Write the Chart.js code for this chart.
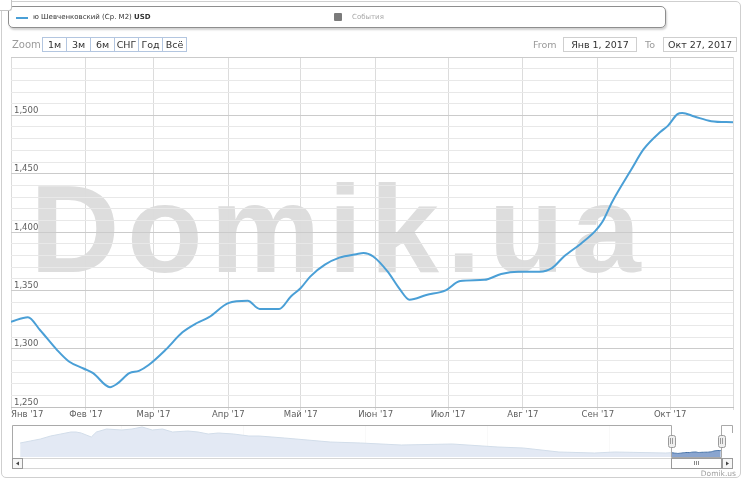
<!DOCTYPE html>
<html><head><meta charset="utf-8">
<script src="https://cdn.jsdelivr.net/npm/chart.js@4.4.1/dist/chart.umd.min.js"></script>
<style>
html,body{margin:0;padding:0;background:#fff;}
#wrap{position:relative;width:744px;height:480px;overflow:hidden;font-family:"DejaVu Sans",sans-serif;}
#frame{position:absolute;left:1px;top:1px;width:738px;height:475px;border:1px solid #cfcfcf;border-radius:5px;}
#corner{position:absolute;left:0;top:0;width:11px;height:10px;border:1px solid #c4c4c4;border-top:none;border-left:none;border-radius:0 0 3px 0;background:#fff;}
#wm{position:absolute;left:30px;top:167px;font-family:"Liberation Sans",Arial,sans-serif;font-weight:bold;font-size:124px;line-height:124px;letter-spacing:7.5px;color:#dddddd;white-space:nowrap;}
#main{position:absolute;left:0;top:0;width:744px;height:424px;}
#nav{position:absolute;left:0;top:418px;width:744px;height:62px;}
#legend{position:absolute;left:8px;top:6px;width:656px;height:20px;border:1px solid #8e8e8e;border-radius:5px;box-shadow:1px 2px 2px rgba(0,0,0,0.18);background:#fff;}
#lline{position:absolute;left:7px;top:10px;width:12px;height:2px;background:#4a9fd6;}
#ltext{position:absolute;left:24px;top:5px;font-size:7px;line-height:10px;color:#333;}
#ltext b{font-weight:bold;}
#evbox{position:absolute;left:325px;top:6px;width:8px;height:8px;background:#7b7b7b;border-radius:1px;}
#evtext{position:absolute;left:343px;top:5px;font-size:7px;line-height:10px;color:#a8a8a8;}
#zoomlbl{position:absolute;left:12px;top:38px;font-size:10px;line-height:13px;color:#9a9a9a;}
#btns{position:absolute;left:42px;top:37px;height:14px;display:flex;}
#btns span{display:block;width:23px;height:13px;border:1px solid #b3c6e0;margin-right:-1px;font-size:9.5px;line-height:13px;text-align:center;color:#333;background:#fff;}
.lbl{position:absolute;top:38px;font-size:9.5px;line-height:13px;color:#9a9a9a;}
.inp{position:absolute;top:37px;height:13px;border:1px solid #cfcfcf;font-size:9.5px;line-height:13px;text-align:center;color:#333;background:#fff;}
#credit{position:absolute;right:8px;top:469px;font-size:7.5px;line-height:9px;color:#a0a0a0;}
</style></head>
<body><div id="wrap">
<div id="frame"></div>
<div id="wm">Domik.ua</div>
<div id="main"><canvas id="c1"></canvas></div>
<div id="nav"><canvas id="c2"></canvas></div>
<div id="legend"><div id="lline"></div><div id="ltext"></div><div id="evbox"></div><div id="evtext"></div></div>
<div id="zoomlbl">Zoom</div>
<div id="btns"></div>
<div class="lbl" style="left:533px">From</div>
<div class="inp" id="fromBox" style="left:563px;width:72px"></div>
<div class="lbl" style="left:645px">To</div>
<div class="inp" id="toBox" style="left:663px;width:72px"></div>
<div id="credit">Domik.us</div>
<div id="corner"></div>
</div>
<script>
// ---------- data ----------
const seriesName = 'ю Шевченковский (Ср. M2)';
const currency = 'USD';
const eventsLabel = 'События';
const zoomButtons = ['1м','3м','6м','СНГ','Год','Всё'];
const fromLabel = 'Янв 1, 2017';
const toLabel = 'Окт 27, 2017';

const dates = ['01-01','01-08','01-13','01-20','01-25','01-31','02-04','02-11','02-14','02-19','02-23','02-27',
  '03-06','03-13','03-19','03-24','04-01','04-09','04-14','04-22','04-27','05-01','05-05','05-11','05-17','05-24',
  '05-27','05-31','06-06','06-11','06-15','06-22','06-30','07-06','07-16','07-23','07-30','08-08','08-13','08-18',
  '08-25','08-31','09-03','09-07','09-15','09-20','09-27','09-30','10-04','10-06','10-11','10-18','10-27'];
const values = [1323,1327,1316,1299,1289,1283,1279,1267,1270,1279,1281,1286,
  1299,1314,1322,1327,1339,1341,1334,1334,1345,1352,1362,1372,1378,1381,
  1382,1379,1366,1351,1342,1346,1350,1358,1359,1364,1366,1366,1369,1379,
  1390,1401,1409,1426,1454,1471,1486,1491,1501,1502,1499,1495,1494];
const monthLabels = ["Янв '17","Фев '17","Мар '17","Апр '17","Май '17","Июн '17","Июл '17","Авг '17","Сен '17","Окт '17"];
const yMin = 1250, yMax = 1550, yMinor = 10, yMajor = 50, yLabelMax = 1500;

const navDates = ['2006-05','2006-07','2006-09','2006-11','2007-01','2007-03','2007-04','2007-05','2007-07','2007-08',
  '2007-10','2008-01','2008-03','2008-05','2008-07','2008-09','2008-11','2009-02','2009-04','2009-06','2009-08',
  '2009-11','2010-02','2010-04','2010-09','2011-06','2011-12','2012-08','2013-06','2014-03','2014-08','2015-03',
  '2015-10','2016-02','2016-12'];
const navValues = [2100,2260,2420,2660,2820,2980,2980,2900,2580,2980,
  3220,3140,3220,3380,3140,3220,2980,3060,2980,2820,2900,
  2820,2660,2660,2500,2180,2100,1940,2020,1780,1700,1380,
  1300,1380,1300];
const yearLabels = ['2008','2010','2012','2014','2016'];

// ---------- helpers ----------
const Y = 2017;
const dayOf = s => { const [m,d] = s.split('-').map(Number); return (Date.UTC(Y,m-1,d)-Date.UTC(Y,0,1))/864e5; };
const mainPts = dates.map((d,i)=>({x:dayOf(d), y:values[i]}));
const monthTicks = monthLabels.map((_,i)=>dayOf(String(i+1).padStart(2,'0')+'-01'));
const lastDay = dayOf(dates[dates.length-1]);
const xTicks = monthTicks.concat([lastDay]);
const yTicks = []; for (let v = yMin; v <= yMax; v += yMinor) yTicks.push(v);
const navPts = navDates.map((s,i)=>{const [y,m]=s.split('-').map(Number); return {x:y+(m-1)/12, y:navValues[i]};})
  .concat(mainPts.map(p=>({x:Y+p.x/365, y:p.y})));
const selFrom = Y, selTo = Y + lastDay/365;

document.getElementById('ltext').innerHTML = seriesName + ' <b>' + currency + '</b>';
document.getElementById('evtext').textContent = eventsLabel;
document.getElementById('btns').innerHTML = zoomButtons.map(b=>'<span>'+b+'</span>').join('');
document.getElementById('fromBox').textContent = fromLabel;
document.getElementById('toBox').textContent = toLabel;

const FONT = {family:'"DejaVu Sans", sans-serif', size:8.5};
const LBL = '#606060';

new Chart(document.getElementById('c1'), {
  type:'line',
  data:{datasets:[{data:mainPts, borderColor:'#4a9fd6', borderWidth:2, pointRadius:0, cubicInterpolationMode:'monotone', fill:false}]},
  options:{
    responsive:true, maintainAspectRatio:false, animation:false, devicePixelRatio:1,
    layout:{padding:{left:11,right:11,top:57,bottom:3.8}},
    plugins:{legend:{display:false}, tooltip:{enabled:false}},
    scales:{
      x:{type:'linear', min:0, max:lastDay,
        afterBuildTicks:s=>{s.ticks = xTicks.map(v=>({value:v}));},
        grid:{color:'#dcdcdc', tickLength:3, drawTicks:true},
        border:{color:'#c0c0c0'},
        ticks:{align:'inner', autoSkip:false, maxRotation:0, padding:0, color:LBL, font:FONT,
          callback:v=>{const i = monthTicks.indexOf(v); return i>=0 ? monthLabels[i] : '';}}
      },
      y:{min:yMin, max:yMax,
        afterBuildTicks:s=>{s.ticks = yTicks.map(v=>({value:v}));},
        afterFit:s=>{s.width = 0;},
        grid:{drawTicks:false, color:c=> (c.tick && c.tick.value % yMajor === 0) ? '#cbcbcb' : '#e8e8e8'},
        border:{display:false},
        ticks:{autoSkip:false, mirror:true, padding:3, labelOffset:-4.5, color:LBL, font:FONT,
          callback:v=> (v % yMajor === 0 && v <= yLabelMax) ? v.toLocaleString('en-US') : ''}
      }
    }
  }
});

const navChrome = {
  id:'navChrome',
  afterDatasetsDraw(chart){
    const {ctx, chartArea:ca, scales:{x}} = chart;
    const x1 = Math.round(x.getPixelForValue(selFrom)), x2 = Math.round(x.getPixelForValue(selTo));
    ctx.save(); ctx.fillStyle='rgba(255,255,255,0.76)';
    ctx.fillRect(ca.left, ca.top, x1-ca.left, ca.bottom-ca.top);
    ctx.fillRect(x2, ca.top, ca.right-x2, ca.bottom-ca.top);
    ctx.restore();
  },
  afterDraw(chart){
    const {ctx, chartArea:ca, scales:{x}} = chart;
    const x1 = Math.round(x.getPixelForValue(selFrom)), x2 = Math.round(x.getPixelForValue(selTo));
    const L = Math.round(ca.left), R = Math.round(ca.right), T = Math.round(ca.top), B = Math.round(ca.bottom);
    const sbT = B + 1, sbH = 10;
    ctx.save();
    ctx.lineWidth = 1;
    ctx.fillStyle='#fff'; ctx.strokeStyle='#d6d6d6';
    ctx.fillRect(L, sbT, R-L, sbH); ctx.strokeRect(L+.5, sbT+.5, R-L-1, sbH);
    ctx.strokeStyle='#9a9a9a'; ctx.fillStyle='#fff';
    ctx.fillRect(x1, sbT, x2-x1, sbH); ctx.strokeRect(x1+.5, sbT+.5, x2-x1, sbH);
    const cx = Math.round((x1+x2)/2);
    ctx.strokeStyle='#8a8a8a';
    for (const dx of [-2,0,2]) { ctx.beginPath(); ctx.moveTo(cx+dx+.5, sbT+3); ctx.lineTo(cx+dx+.5, sbT+7); ctx.stroke(); }
    const btn = (bx, dir) => {
      ctx.fillStyle='#f6f6f6'; ctx.strokeStyle='#9a9a9a';
      ctx.fillRect(bx, sbT, 10, sbH); ctx.strokeRect(bx+.5, sbT+.5, 10, sbH);
      ctx.fillStyle='#444'; ctx.beginPath();
      const mx = bx+5.5, my = sbT+5.5;
      ctx.moveTo(mx+1.5*dir, my-2); ctx.lineTo(mx+1.5*dir, my+2); ctx.lineTo(mx-1.5*dir, my); ctx.closePath(); ctx.fill();
    };
    btn(L, 1); btn(R-11, -1);
    ctx.strokeStyle='#a9a9a9'; ctx.beginPath();
    ctx.moveTo(L+.5, sbT); ctx.lineTo(L+.5, T+.5); ctx.lineTo(x1+.5, T+.5); ctx.lineTo(x1+.5, B+.5);
    ctx.lineTo(x2+.5, B+.5); ctx.lineTo(x2+.5, T+.5); ctx.lineTo(R-.5, T+.5); ctx.lineTo(R-.5, T+8);
    ctx.stroke();
    const cy = Math.round((T+B)/2);
    for (const hx of [x1, x2]) {
      ctx.fillStyle='#efefef'; ctx.strokeStyle='#9a9a9a';
      ctx.beginPath(); ctx.roundRect(hx-3+.5, cy-6+.5, 7, 12, 2); ctx.fill(); ctx.stroke();
      for (const dx of [-1, 1]) { ctx.beginPath(); ctx.moveTo(hx+dx+.5, cy-3); ctx.lineTo(hx+dx+.5, cy+3); ctx.stroke(); }
    }
    ctx.restore();
  }
};

new Chart(document.getElementById('c2'), {
  type:'line',
  data:{datasets:[{data:navPts, borderColor:'#4572a7', borderWidth:1, backgroundColor:'#8aa5cf', fill:'start', pointRadius:0, tension:0}]},
  options:{
    responsive:true, maintainAspectRatio:false, animation:false, devicePixelRatio:1,
    layout:{padding:{left:12,right:11,top:7,bottom:23}},
    plugins:{legend:{display:false}, tooltip:{enabled:false}},
    scales:{
      x:{type:'linear', min:2006.2, max:2018.02, z:1,
        afterBuildTicks:s=>{s.ticks = yearLabels.map(v=>({value:Number(v)}));},
        afterFit:s=>{s.height = 0;},
        grid:{color:'#e4e4e4', drawTicks:false},
        border:{display:false},
        ticks:{align:'start', labelOffset:2, padding:-11, autoSkip:false, maxRotation:0, color:LBL, font:FONT,
          callback:v=>String(v)}
      },
      y:{display:false, min:980, max:3540}
    }
  },
  plugins:[navChrome]
});
</script>
</body></html>
